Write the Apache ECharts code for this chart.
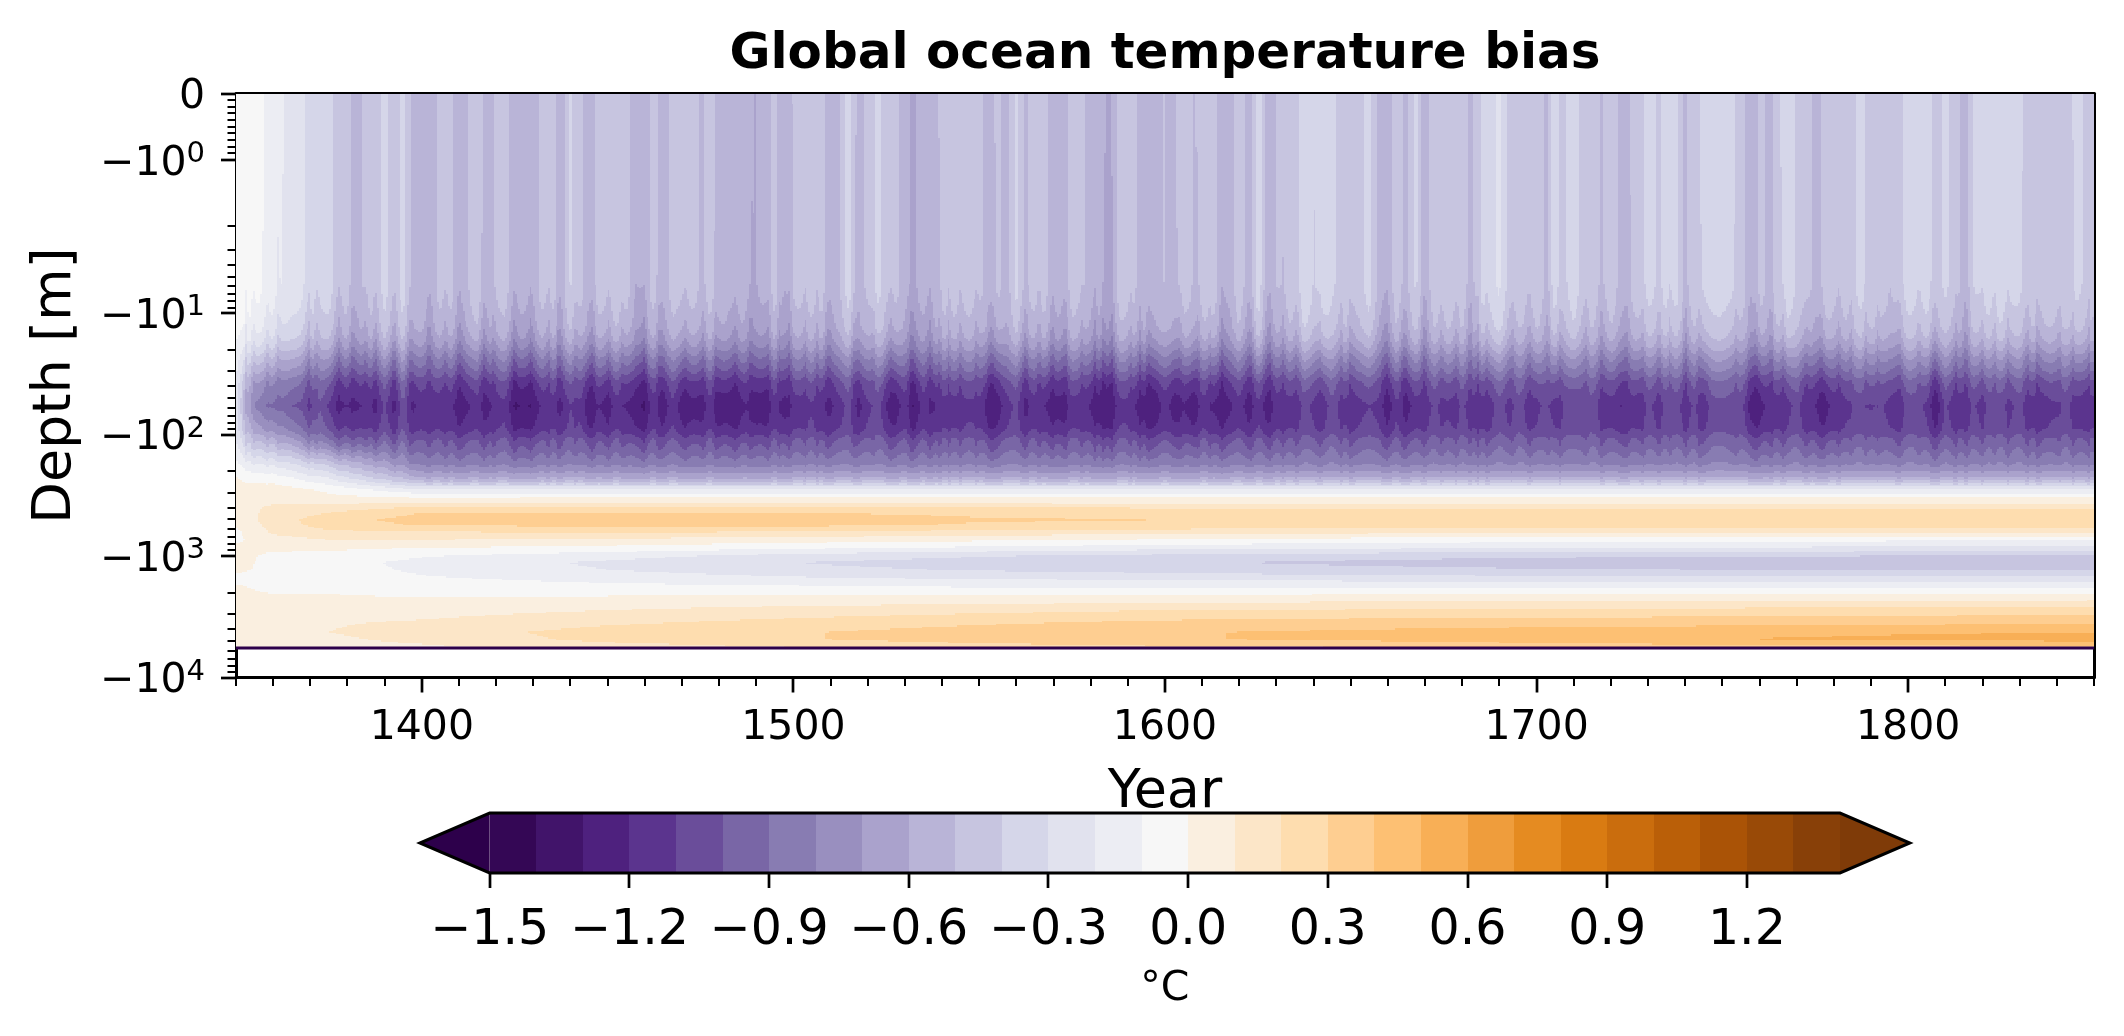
<!DOCTYPE html>
<html><head><meta charset="utf-8">
<style>html,body{margin:0;padding:0;background:#fff}#c{width:2124px;height:1036px}</style>
<script src="https://cdn.jsdelivr.net/npm/echarts@6/dist/echarts.min.js"></script>
</head><body><div id="c"></div>
<script>
// ---- values ----
const titleText = 'Global ocean temperature bias';
const xTickYears = [1400,1500,1600,1700,1800];
const yTickDepths = [0,1,10,100,1000,10000];
const yTickExponents = ['', '0','1','2','3','4'];
const colorbarTicks = [-1.5,-1.2,-0.9,-0.6,-0.3,0,0.3,0.6,0.9,1.2];
const colorbarTickLabels = ['\u22121.5','\u22121.2','\u22120.9','\u22120.6','\u22120.3','0.0','0.3','0.6','0.9','1.2'];
const colorAnchors = ['#2d004b','#542788','#8073ac','#b2abd2','#d8daeb','#f7f7f7','#fee0b6','#fdb863','#e08214','#b35806','#7f3b08'];
const oceanFloorDepth = 5720;

const surfaceBias = [
-.05,-.05,-.05,-.1,-.15,-.18,-.25,-.25,-.35,-.35,-.35,-.45,-.45,-.55,-.45,-.45,-.35,-.45,-.35,-.5,
-.5,-.55,-.45,-.45,-.55,-.5,-.4,-.55,-.45,-.45,-.55,-.55,-.55,-.45,-.45,-.55,-.38,-.45,-.55,-.45,
-.45,-.42,-.42,-.6,-.55,-.45,-.55,-.45,-.45,-.45,
-.5,-.45,-.5,-.55,-.52,-.55,-.6,-.55,-.45,-.6,-.48,-.45,-.45,-.45,-.55,-.5,-.32,-.55,-.47,-.35,
-.45,-.45,-.55,-.6,-.55,-.55,-.45,-.45,-.45,-.45,-.45,-.55,-.45,-.55,-.35,-.5,-.45,-.45,-.55,-.55,
-.45,-.45,-.55,-.55,-.62,-.45,-.42,-.5,-.5,-.5,
-.5,-.5,-.42,-.5,-.45,-.4,-.55,-.55,-.42,-.55,-.33,-.55,-.5,-.45,-.42,-.3,-.4,-.3,-.38,-.42,
-.42,-.42,-.35,-.52,-.55,-.42,-.52,-.38,-.55,-.42,-.4,-.42,-.42,-.55,-.38,-.32,-.28,-.42,-.42,-.45,
-.4,-.5,-.35,-.42,-.33,-.42,-.42,-.5,-.42,-.52,
-.5,-.42,-.36,-.4,-.36,-.36,-.5,-.42,-.35,-.35,-.35,-.35,-.42,-.58,-.45,-.52,-.42,-.3,-.42,-.42,
-.55,-.42,-.45,-.45,-.42,-.35,-.42,-.4,-.5,-.42,-.35,-.35,-.35,-.42,-.38,-.42,-.55,-.4,-.35,-.35,
-.33,-.35,-.38,-.42,-.42,-.42,-.4,-.42,-.35,-.42,-.45];
const coreBias = [
-.25,-.6,-.8,-.88,-.92,-.92,-1,-1.02,-1.12,-1,-1.12,-1.22,-1.2,-1.22,-1.18,-1.22,-1.08,-1.22,-1.02,-1.22,
-1.17,-1.17,-1.17,-1.17,-1.25,-1.22,-1.15,-1.25,-1.15,-1.13,-1.3,-1.3,-1.28,-1.17,-1.15,-1.22,-1.1,-1.12,-1.28,-1.2,
-1.25,-1.15,-1.2,-1.28,-1.3,-1.15,-1.27,-1.13,-1.25,-1.25,
-1.25,-1.15,-1.27,-1.27,-1.27,-1.2,-1.27,-1.27,-1.15,-1.25,-1.17,-1.14,-1.12,-1.18,-1.22,-1.15,-1.05,-1.25,-1.12,-1.05,
-1.2,-1.27,-1.15,-1.3,-1.15,-1.22,-1.15,-1.15,-1.15,-1.13,-1.12,-1.28,-1.25,-1.15,-1.07,-1.22,-1.15,-1.2,-1.25,-1.25,
-1.15,-1.15,-1.22,-1.27,-1.3,-1.15,-1.12,-1.22,-1.27,-1.27,
-1.17,-1.25,-1.2,-1.28,-1.15,-1.2,-1.27,-1.22,-1.15,-1.25,-1.13,-1.25,-1.17,-1.15,-1.15,-1.07,-1.13,-1.15,-1.05,-1.13,
-1.15,-1.13,-1.1,-1.13,-1.25,-1.12,-1.25,-1.15,-1.15,-1.08,-1.12,-1.14,-1.08,-1.15,-1.16,-1.14,-1.05,-1.13,-1.04,-1.13,
-1.14,-1.06,-1.15,-1.08,-1.1,-1.06,-1.05,-1.14,-1.15,-1.2,
-1.15,-1.16,-1.08,-1.14,-1.08,-1.07,-1.15,-1.08,-1.15,-1.05,-1.04,-1.04,-1.05,-1.24,-1.26,-1.17,-1.16,-1.14,-1.06,-1.16,
-1.2,-1.26,-1.16,-1.16,-1.08,-1.06,-1.11,-1.07,-1.15,-1.15,-1.07,-1.05,-1.13,-1.27,-1.08,-1.16,-1.16,-1.09,-1.13,-1.06,
-1.07,-1.12,-1.06,-1.15,-1.16,-1.15,-1.1,-1.07,-1.14,-1.18,-1.15];

// years where the contours of the cold layer peak towards the surface
const crestYears = [
1352.7,1354.5,1358.5,1361.2,1369.7,1371.5,1377.8,1381.4,1385,1387.6,1392.6,1396.6,1402,1406.4,1410,1416.8,1419.4,1424.8,1429.3,1434.2,1436.9,1441.4,1445.9,1450.4,1453.9,1459.8,1463.8,1471,
1475.9,1479,1484.4,1488.4,1493.4,1496.1,1498.7,1503.2,1506.4,1509,1516.2,1521.6,1526.1,1531.9,1536.8,1539.5,1541.8,1544.9,1549.4,1553.4,1562.4,1566,1569.5,1573.1,1577.6,1581.2,1583.4,1585.7,1590.6,1593.3,1595.5,
1604,1609,1612.1,1615.2,1623.3,1628.2,1631.8,1635.4,1641.7,1647.5,1649.7,1659.6,1664.1,1669.9,1674.4,1678.4,1682,1684.2,1686.5,1693.6,1698.1,1703,1706.2,1713.3,1717.4,1724.1,
1728.6,1733.1,1735.8,1740.2,1743.8,1753.7,1759,1763.1,1766.2,1772.5,1776.5,1781.4,1784.6,1788.6,1791.8,1797.6,1803,1807,1812.8,1815.5,1820,1823.1,1826.7,1832.1,1834.8,1840.6,1844.2,1849.1];
const crestStrength = 0.11;
const crestDepths = [0,5.6,12.7,23.8,37.4,57.8,88,120,146,190,283];
const crestShare  = [.25,.35,1,1,.7,.2,.3,.7,.6,.2,0];

const upperDepths  = [5.6,8.2,12.7,16.3,19.7,23.8,29.8,37.4,57.8];
const upperShare   = [0,.03,.1,.2,.32,.47,.63,.82,1];
const lowerDepths  = [57.8,88,110,146,177,226,283];
const lowerShare   = [1,.7,.5,.3,.2,.1,0];

const deepDepths = [88,110,146,177,226,283,324,363,392,439,501,551,629,732,853,991,1130,1291,1504,1816,2194,2806,3516,4256,4864,5650];
const deepYears = [1350,1360,1375,1400,1450,1500,1550,1600,1650,1700,1750,1800,1850];
const deep1350 = [-.2,-.15,-.08,-.02,.03,.05,.05,.05,.05,.05,.03,.01,-.02,-.02,.02,.03,.03,.02,-.02,.01,.02,.04,.06,.06,.06,.06];
const deep1360 = [-.35,-.2,-.1,-.02,.05,.05,.05,.08,.12,.13,.15,.14,.12,.06,.02,-.02,-.03,-.03,-.03,-.02,.01,.03,.05,.05,.05,.05];
const deep1375 = [-.8,-.65,-.4,-.24,-.1,-.02,.02,.08,.14,.2,.26,.25,.18,.1,.02,-.03,-.06,-.05,-.04,-.02,.01,.05,.09,.1,.08,.06];
const deep1400 = [-.98,-.81,-.76,-.71,-.54,-.2,-.02,.1,.2,.3,.34,.31,.2,.1,0,-.09,-.13,-.12,-.09,-.05,0,.06,.11,.15,.13,.08];
const deep1450 = [-.98,-.81,-.76,-.71,-.54,-.2,-.01,.1,.2,.3,.36,.33,.21,.08,-.03,-.16,-.22,-.2,-.14,-.07,.01,.1,.18,.24,.23,.15];
const deep1500 = [-.98,-.81,-.76,-.71,-.54,-.2,-.01,.1,.2,.3,.36,.33,.2,.05,-.08,-.24,-.3,-.27,-.19,-.08,.02,.14,.23,.29,.29,.2];
const deep1550 = [-.98,-.81,-.76,-.71,-.54,-.2,0,.08,.19,.28,.31,.29,.17,.02,-.12,-.29,-.35,-.31,-.22,-.1,.02,.17,.28,.35,.35,.25];
const deep1600 = [-.98,-.81,-.76,-.71,-.54,-.2,0,.08,.18,.27,.3,.28,.15,-.01,-.16,-.33,-.39,-.34,-.24,-.1,.03,.2,.32,.39,.39,.28];
const deep1650 = [-.98,-.81,-.76,-.71,-.54,-.2,0,.07,.18,.26,.28,.27,.14,-.04,-.18,-.36,-.42,-.37,-.26,-.1,.04,.21,.34,.42,.42,.3];
const deep1700 = [-.98,-.81,-.76,-.71,-.54,-.2,0,.07,.18,.25,.28,.27,.13,-.06,-.2,-.38,-.45,-.39,-.27,-.1,.05,.22,.35,.45,.46,.33];
const deep1750 = [-.98,-.81,-.76,-.71,-.54,-.2,0,.07,.18,.25,.28,.27,.12,-.07,-.21,-.39,-.47,-.4,-.28,-.1,.05,.23,.36,.47,.5,.35];
const deep1800 = [-.98,-.81,-.76,-.71,-.54,-.2,0,.07,.18,.25,.28,.27,.12,-.08,-.22,-.4,-.48,-.4,-.28,-.1,.05,.24,.37,.49,.52,.36];
const deep1850 = [-.98,-.81,-.76,-.71,-.54,-.2,0,.07,.18,.25,.28,.27,.12,-.08,-.22,-.4,-.48,-.4,-.28,-.1,.05,.25,.38,.5,.54,.38];
const deepProfiles = [deep1350,deep1360,deep1375,deep1400,deep1450,deep1500,deep1550,deep1600,deep1650,deep1700,deep1750,deep1800,deep1850];

const LIN = 2, LINK = 0.5473, LOGZERO = 1.1086;
const symlog = d => d <= LIN ? d * LINK : LOGZERO + Math.log10(d / LIN);
const Y_MAX = symlog(10000);

function lerp(xs, ys, x) {
  if (x <= xs[0]) return ys[0];
  const n = xs.length - 1;
  if (x >= xs[n]) return ys[n];
  let i = 0; while (x > xs[i + 1]) i++;
  return ys[i] + (ys[i + 1] - ys[i]) * (x - xs[i]) / (xs[i + 1] - xs[i]);
}
const uUpper = upperDepths.map(symlog), uLower = lowerDepths.map(symlog), uDeep = deepDepths.map(symlog), uCrest = crestDepths.map(symlog);

function crestAt(year) {           // 1 on a crest, 0 half way to the next one
  let i = 0; while (i < crestYears.length - 1 && year > crestYears[i + 1]) i++;
  if (year < crestYears[0] || i >= crestYears.length - 1) return 0;
  const t = (year - crestYears[i]) / (crestYears[i + 1] - crestYears[i]);
  const q = Math.abs(2 * t - 1);
  return q * q;
}
function field(k, u) {
  const k0 = Math.min(Math.floor(k), surfaceBias.length - 2), f = k - k0;
  const s = surfaceBias[k0] + (surfaceBias[k0 + 1] - surfaceBias[k0]) * f;
  const c = coreBias[k0] + (coreBias[k0 + 1] - coreBias[k0]) * f;
  const year = 1350 + k * 2.5;
  const crest = -crestStrength * crestAt(year) * lerp(uCrest, crestShare, u);
  if (u <= uUpper[uUpper.length - 1]) return s + lerp(uUpper, upperShare, u) * (c - s) + crest;
  let j = 0; while (j < deepYears.length - 2 && year > deepYears[j + 1]) j++;
  const fy = (year - deepYears[j]) / (deepYears[j + 1] - deepYears[j]);
  const a = lerp(uDeep, deepProfiles[j], u), b = lerp(uDeep, deepProfiles[j + 1], u);
  const w = lerp(uLower, lowerShare, u);
  return w * c + (1 - w) * (a + (b - a) * fy) + crest;
}
const palette = [];
for (let i = 0; i <= 30; i++) {
  const shift = 0.5 * Math.max(-1, Math.min(1, (i - 15) / 6));
  const p = Math.max(0, Math.min(30, i + shift)) / 3, a = Math.min(Math.floor(p), 9), t = p - a;
  const A = parseInt(colorAnchors[a].slice(1), 16), B = parseInt(colorAnchors[a + 1].slice(1), 16);
  const mix = sh => Math.round(((A >> sh) & 255) + (((B >> sh) & 255) - ((A >> sh) & 255)) * t);
  palette.push('rgb(' + mix(16) + ',' + mix(8) + ',' + mix(0) + ')');
}
const levelOf = T => Math.max(0, Math.min(30, Math.floor((T + 1.5) / 0.1 + 1e-9) + 1));

const fieldRuns = [];
const SUB = 5, UMAX = symlog(oceanFloorDepth), DU = 1.5 / 121.6;
for (let c = 0; c < (surfaceBias.length - 1) * SUB; c++) {
  const k = (c + 0.5) / SUB, y0 = 1350 + c * 2.5 / SUB, y1 = y0 + 2.5 / SUB;
  let u0 = 0, lev = levelOf(field(k, DU / 2));
  for (let u = DU; u < UMAX; u += DU) {
    const l = levelOf(field(k, u + DU / 2));
    if (l !== lev) { fieldRuns.push([y0, y1, u0, u, lev]); u0 = u; lev = l; }
  }
  fieldRuns.push([y0, y1, u0, UMAX, lev]);
}
const colorbarBins = [];
for (let i = 1; i <= 29; i++) colorbarBins.push([-1.6 + i * 0.1, -1.5 + i * 0.1, i]);

const minorX = []; for (let y = 1350; y <= 1850; y += 10) if (y % 100) minorX.push(y);
const minorY = [];
[.1,.2,.3,.4,.5,.6,.7,.8,.9].forEach(d => minorY.push(symlog(d)));
[1,10,100,1000].forEach(m => { for (let i = 2; i <= 9; i++) minorY.push(symlog(m * i)); });

// tick marks: [axis (0 = x, 1 = y), value, major?]
const plotTicks = [];
xTickYears.forEach(v => plotTicks.push([0, v, 1]));
minorX.forEach(v => plotTicks.push([0, v, 0]));
yTickDepths.forEach(d => plotTicks.push([1, symlog(d), 1]));
minorY.forEach(v => plotTicks.push([1, v, 0]));

const FONT = '"DejaVu Sans"';
const INK = '#000';
const line = () => ({show:true, lineStyle:{color:INK, width:3}, onZero:false});
const plain = (o) => Object.assign({type:'value', splitLine:{show:false}, axisTick:{show:false}}, o);

const option = {
  backgroundColor:'#fff', animation:false,
  title:{text:titleText, left:1160, top:25, textAlign:'center',
    textStyle:{fontFamily:FONT, fontWeight:'bold', fontSize:50, color:INK}},
  grid:[
    {left:236, right:30, top:93.5, height:584},
    {left:489.7, width:1350.3, top:813, height:60}
  ],
  xAxis:[
    plain({gridIndex:0, min:1350, max:1850, position:'bottom', axisLine:line(),
     name:'Year', nameLocation:'middle', nameGap:88, nameTextStyle:{fontFamily:FONT, fontSize:54, color:INK},
     axisLabel:{show:true, customValues:xTickYears, margin:30, fontFamily:FONT, fontSize:41, color:INK, formatter:v=>String(v)}}),
    plain({gridIndex:0, min:1350, max:1850, position:'top', axisLine:line(), axisLabel:{show:false}}),
    plain({gridIndex:1, min:-1.5, max:1.4, position:'bottom', axisLine:{show:false},
     name:'\u00b0C', nameLocation:'middle', nameGap:96, nameTextStyle:{fontFamily:FONT, fontSize:41, color:INK},
     axisLabel:{show:true, customValues:colorbarTicks, margin:34, fontFamily:FONT, fontSize:49, color:INK,
       hideOverlap:false, formatter:v=>colorbarTickLabels[colorbarTicks.findIndex(t=>Math.abs(t-v)<1e-6)]}})
  ],
  yAxis:[
    plain({gridIndex:0, inverse:true, min:0, max:Y_MAX, position:'left', axisLine:line(),
     name:'Depth [m]', nameLocation:'middle', nameGap:153, nameRotate:90, nameTextStyle:{fontFamily:FONT, fontSize:54, color:INK},
     axisLabel:{show:true, customValues:yTickDepths.map(symlog), margin:31, align:'right', padding:[8,0,0,0],
       formatter:v=>{
         const i = yTickDepths.findIndex(d=>Math.abs(symlog(d)-v)<1e-6);
         return i===0 ? '{b|0}' : '{b|\u221210}{s|'+yTickExponents[i]+'}';
       },
       rich:{b:{fontFamily:FONT, fontSize:41, color:INK, lineHeight:48},
             s:{fontFamily:FONT, fontSize:29, color:INK, lineHeight:48, verticalAlign:'top', padding:[0,0,14,0]}}}}),
    plain({gridIndex:0, inverse:true, min:0, max:Y_MAX, position:'right', axisLine:line(), axisLabel:{show:false}}),
    {type:'value', gridIndex:1, min:0, max:1, show:false}
  ],
  series:[
    {type:'custom', coordinateSystem:'cartesian2d', xAxisIndex:0, yAxisIndex:0, silent:true, progressive:0, clip:true, z:1,
     data:fieldRuns,
     renderItem:(p,api)=>{
       const a = api.coord([api.value(0), api.value(2)]), b = api.coord([api.value(1), api.value(3)]);
       const x0 = Math.round(a[0]), x1 = Math.round(b[0]), y0 = Math.round(a[1]), y1 = Math.round(b[1]);
       return {type:'rect', shape:{x:x0, y:y0, width:x1-x0, height:y1-y0}, style:{fill:palette[api.value(4)]}};
     }},
    {type:'line', xAxisIndex:0, yAxisIndex:0, silent:true, symbol:'none', z:2,
     lineStyle:{color:palette[0], width:3}, data:[[1350,symlog(oceanFloorDepth)],[1850,symlog(oceanFloorDepth)]]},
    {type:'custom', coordinateSystem:'cartesian2d', xAxisIndex:0, yAxisIndex:0, silent:true, progressive:0, z:5,
     data:plotTicks,
     renderItem:(p,api)=>{
       const major = api.value(2), len = major ? 15 : 8.5, w = major ? 2.7 : 2;
       if (api.value(0) === 0) {
         const q = api.coord([api.value(1), Y_MAX]), x = Math.round(q[0]);
         return {type:'line', shape:{x1:x, y1:q[1], x2:x, y2:q[1]+len}, style:{stroke:INK, lineWidth:w}};
       }
       const q = api.coord([1350, api.value(1)]), y = Math.round(q[1]);
       return {type:'line', shape:{x1:q[0]-len, y1:y, x2:q[0], y2:y}, style:{stroke:INK, lineWidth:w}};
     }},
    {type:'custom', coordinateSystem:'cartesian2d', xAxisIndex:2, yAxisIndex:2, silent:true, progressive:0, z:1,
     data:colorbarBins,
     renderItem:(p,api)=>{
       const a = api.coord([api.value(0), 1]), b = api.coord([api.value(1), 0]);
       const x0 = Math.round(a[0]), x1 = Math.round(b[0]);
       return {type:'rect', shape:{x:x0, y:a[1], width:x1-x0, height:b[1]-a[1]}, style:{fill:palette[api.value(2)]}};
     }},
    {type:'custom', coordinateSystem:'cartesian2d', xAxisIndex:2, yAxisIndex:2, silent:true, z:2,
     data:[[-1.5,-1.65,0],[1.4,1.55,30]],
     renderItem:(p,api)=>{
       const v=api.value(0), tip=api.value(1);
       const pts=[api.coord([v,1]),api.coord([tip,.5]),api.coord([v,0])];
       return {type:'polygon', shape:{points:pts}, style:{fill:palette[api.value(2)]}};
     }},
    {type:'custom', coordinateSystem:'cartesian2d', xAxisIndex:2, yAxisIndex:2, silent:true, z:3,
     data:[[-1.5,-1.65,1.4,1.55]],
     renderItem:(p,api)=>{
       const l=api.value(0), lt=api.value(1), r=api.value(2), rt=api.value(3);
       const pts=[api.coord([l,1]),api.coord([r,1]),api.coord([rt,.5]),api.coord([r,0]),api.coord([l,0]),api.coord([lt,.5])];
       return {type:'polygon', shape:{points:pts}, style:{fill:'none', stroke:INK, lineWidth:3}};
     }},
    {type:'custom', coordinateSystem:'cartesian2d', xAxisIndex:2, yAxisIndex:2, silent:true, z:4,
     data:colorbarTicks.map(v=>[v]),
     renderItem:(p,api)=>{
       const q = api.coord([api.value(0), 0]), x = Math.round(q[0]);
       return {type:'line', shape:{x1:x, y1:q[1], x2:x, y2:q[1]+15}, style:{stroke:INK, lineWidth:2.7}};
     }}
  ]
};
const chart = echarts.init(document.getElementById('c'), null, {renderer:'canvas', width:2124, height:1036});
chart.setOption(option);
</script></body></html>
